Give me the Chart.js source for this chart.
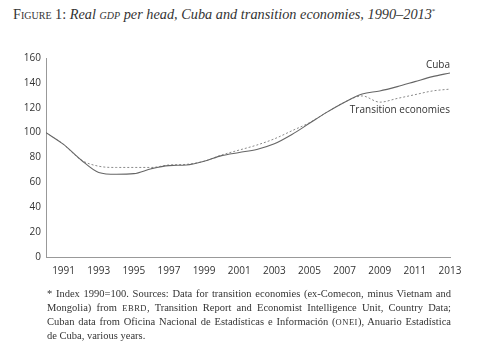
<!DOCTYPE html>
<html><head><meta charset="utf-8">
<script src="https://cdn.jsdelivr.net/npm/chart.js@4"></script>
<style>
html,body{margin:0;padding:0;background:#fff;width:477px;height:364px;overflow:hidden}
#title{position:absolute;left:13px;top:6px;font-family:"Liberation Serif","DejaVu Serif",serif;font-size:14.3px;color:#333;white-space:nowrap}
#wrap{position:absolute;left:0;top:0;width:477px;height:290px}
#note{position:absolute;left:47px;top:287px;width:404px;font-family:"Liberation Serif","DejaVu Serif",serif;font-size:10.5px;line-height:14px;color:#333}
#note div{text-align:justify;text-align-last:justify;white-space:nowrap}
#note div.last{text-align-last:left}
.sc{font-size:8.5px;letter-spacing:0.5px}
</style></head><body>
<div id="title"><span style="font-variant:small-caps">Figure 1:</span> <i>Real <span style="font-variant:small-caps">gdp</span> per head, Cuba and transition economies, 1990–2013</i><sup style="font-size:7px">*</sup></div>
<div id="wrap"><canvas id="c" width="477" height="290"></canvas></div>
<div id="note"><div>* Index 1990=100. Sources: Data for transition economies (ex-Comecon, minus Vietnam and</div><div>Mongolia) from <span class="sc">EBRD</span>, Transition Report and Economist Intelligence Unit, Country Data;</div><div>Cuban data from Oficina Nacional de Estadísticas e Información (<span class="sc">ONEI</span>), Anuario Estadística</div><div class="last">de Cuba, various years.</div></div>
<script>
const years = [1990,1991,1992,1993,1994,1995,1996,1997,1998,1999,2000,2001,2002,2003,2004,2005,2006,2007,2008,2009,2010,2011,2012,2013];
const cuba = [100,90.5,78,68,66.5,67,71,73.5,74,77,81.5,84,86.5,91,98.5,107.5,116.5,124.5,131,133.5,137,141,145,148];
const transition = [100,90.5,78,73,72,72,72,74,74.5,77,82,86,90,95,101.5,108,116.5,124.5,129.5,124.5,127.5,130.5,133.5,135];
const xTicks = [1991,1993,1995,1997,1999,2001,2003,2005,2007,2009,2011,2013];
const yTicks = [0,20,40,60,80,100,120,140,160];
const seriesLabels = ["Cuba","Transition economies"];

const labelPlugin = {
  id:'lbl',
  afterDatasetsDraw(chart){
    const ctx = chart.ctx, x = chart.scales.x, y = chart.scales.y;
    ctx.save();
    ctx.font = '10px "Open Sans", "DejaVu Sans", sans-serif';
    ctx.fillStyle = '#333';
    ctx.textAlign = 'right';
    ctx.textBaseline = 'middle';
    ctx.fillText(seriesLabels[0], x.getPixelForValue(2013), y.getPixelForValue(cuba[23]) - 8);
    ctx.fillText(seriesLabels[1], x.getPixelForValue(2013), y.getPixelForValue(118));
    ctx.restore();
  }
};

new Chart(document.getElementById('c'), {
  type:'line',
  data:{
    datasets:[
      {label:seriesLabels[0], data: years.map((yr,i)=>({x:yr,y:cuba[i]})), borderColor:'#666', borderWidth:1.1, pointRadius:0, cubicInterpolationMode:'monotone', fill:false},
      {label:seriesLabels[1], data: years.map((yr,i)=>({x:yr,y:transition[i]})), borderColor:'#8a8a8a', borderWidth:1, borderDash:[2,2], pointRadius:0, cubicInterpolationMode:'monotone', fill:false}
    ]
  },
  options:{
    responsive:false, animation:false,
    layout:{padding:{top:58,right:27,bottom:8,left:0}},
    plugins:{legend:{display:false},tooltip:{enabled:false}},
    scales:{
      x:{type:'linear', min:1990, max:2013,
        afterBuildTicks(s){ s.ticks = xTicks.map(v=>({value:v})); },
        afterFit(s){ s.height = 25; },
        grid:{display:false, drawTicks:false},
        border:{display:true, color:'#999', width:1},
        ticks:{padding:8, color:'#333', font:{family:'"Open Sans", "DejaVu Sans", sans-serif', size:10}, callback:v=>String(v), maxRotation:0, autoSkip:false}
      },
      y:{min:0, max:160,
        afterBuildTicks(s){ s.ticks = yTicks.map(v=>({value:v})); },
        afterFit(s){ s.width = 46; },
        grid:{display:false, drawTicks:false},
        border:{display:true, color:'#999', width:1},
        ticks:{padding:5, color:'#333', font:{family:'"Open Sans", "DejaVu Sans", sans-serif', size:10}}
      }
    }
  },
  plugins:[labelPlugin]
});
</script>
</body></html>
